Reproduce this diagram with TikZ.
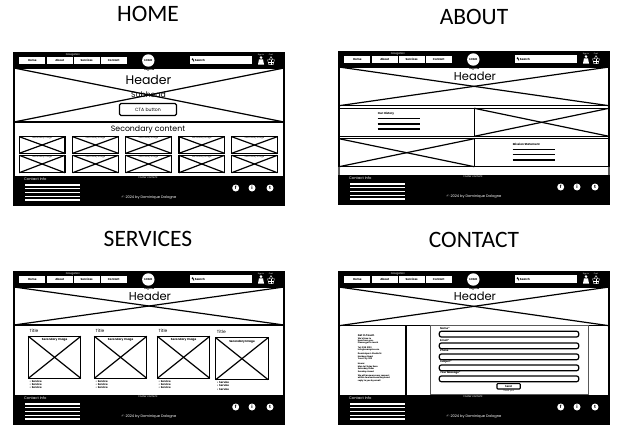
\documentclass[tikz,border=0pt]{standalone}
\usepackage{fontspec}
\setmainfont{Poppins}
\newfontfamily\titlefont{Carlito}

\tikzset{
  pagetitle/.style={font=\titlefont\fontsize{23.5}{26}\selectfont},
  crossline/.style={draw=black,line width=1.2pt},
  navtab/.style={draw=none,fill=white},
  tinywhite/.style={text=white,inner sep=0pt,font=\fontsize{2.6}{3}\selectfont},
  tinyblack/.style={text=black,inner sep=0pt,font=\bfseries\fontsize{2.8}{3}\selectfont},
  textline/.style={line width=1.5pt,black},
  footline/.style={line width=1.3pt,white},
  greyrule/.style={draw=black!65,line width=1.1pt},
  formfield/.style={draw=black,line width=1.2pt,rounded corners=2pt}
}

% box with a cross through it
\newcommand{\xbox}[4]{
  \draw[crossline] (#1,#2) rectangle (#3,#4);
  \draw[crossline] (#1,#2) -- (#3,#4);
  \draw[crossline] (#1,#4) -- (#3,#2);
}

% nav bar, footer and hero: page name / hero bottom edge
\newcommand{\wirepage}[2]{
  % Outline
  \draw[black,line width=1.1pt] (0,0) rectangle (270,152);
  % Top bar
  \fill[black] (0,0) rectangle (270,15);
  \foreach \i/\x/\lbl in {1/5.3/Home, 2/32.7/About, 3/59.7/Services, 4/86.7/Contact} {
    \fill[navtab] (\x,4) rectangle ++(26,7.3);
    \node[tinyblack] (#1-nav\i) at (\x+13,7.2) {\lbl};
  }
  \node[tinywhite] (#1-navlabel) at (59,1.8) {Navigation};
  \fill[white] (134.3,7.5) circle (6.2);
  \node[tinyblack] (#1-logo) at (134.3,7.5) {LOGO};
  % Search
  \fill[navtab] (176,3.4) rectangle (238,11);
  \fill[black] (178.6,6.2) circle (1);
  \draw[black,line width=0.7pt] (178.6,6.2) -- (180,8.4);
  \node[tinyblack,anchor=west] (#1-search) at (180.6,7.2) {Search};
  % Account and cart
  \node[tinywhite,font=\fontsize{1.9}{2}\selectfont] (#1-signin) at (247,1.7) {Sign in};
  \fill[white] (247,4.6) circle (1.4);
  \fill[white] (245,6.3) -- (249,6.3) -- (250,11.5) -- (244,11.5) -- cycle;
  \node[tinywhite,font=\fontsize{1.9}{2}\selectfont] (#1-cart) at (257,1.7) {Cart};
  \draw[white,line width=0.4pt] (253.6,6.7) -- (260.4,6.7) -- (259.2,11.6) -- (254.8,11.6) -- cycle;
  \draw[white,line width=0.4pt] (255.2,6.7) -- (257,3.6) -- (258.8,6.7);
  \draw[white,line width=0.4pt] (257,6.7) -- (257,11.6) (254.3,9) -- (259.7,9);
  % Hero
  \xbox{0}{15}{270}{#2}
  \node[tinyblack] (#1-tag) at (135,17.2) {Tagline};
  % Footer
  \fill[black] (0,122.6) rectangle (270,152.5);
  \node[tinywhite,anchor=west,font=\fontsize{3.6}{4}\selectfont] (#1-contact) at (10,126) {Contact Info};
  \node[tinywhite] (#1-footer) at (134,125) {Footer content};
  \foreach \y in {132,135.7,139.3,143.3,147} {
    \draw[footline] (11,\y) -- (66,\y);
  }
  \node[tinywhite,font=\fontsize{3.6}{4}\selectfont] (#1-copy) at (135,145) {\textcopyright{} 2024 by Dominique Dalogne};
  \foreach \i/\x/\lbl in {1/221.7/f, 2/238/i, 3/256/t} {
    \node[circle,fill=white,inner sep=0pt,minimum size=7pt,text=black,font=\bfseries\fontsize{4.4}{4}\selectfont] (#1-social\i) at (\x,135) {\lbl};
  }
}

\begin{document}
\begin{tikzpicture}[x=1pt,y=-1pt]
  \useasboundingbox (0,0) rectangle (621,431);
  \fill[white] (0,0) rectangle (621,431);

  % Page names
  \node[pagetitle] (hometitle) at (148,14) {HOME};
  \node[pagetitle] (abouttitle) at (474,17) {ABOUT};
  \node[pagetitle] (servicestitle) at (148,239) {SERVICES};
  \node[pagetitle] (contacttitle) at (474,240) {CONTACT};

  % Home
  \begin{scope}[shift={(14,53)}]
    \wirepage{home}{69}
    \node[inner sep=0pt,font=\fontsize{12.5}{14}\selectfont] (homehead) at (134.5,27) {Header};
    \node[inner sep=0pt,font=\fontsize{7.7}{10}\selectfont] (homesub) at (134.5,42) {Subhead};
    \node[draw,fill=white,line width=1.1pt,rounded corners=1.5pt,minimum width=57pt,minimum height=12pt,inner sep=0pt,font=\fontsize{4.6}{6}\selectfont] (homecta) at (134,56.5) {CTA button};
    \node[inner sep=0pt,font=\fontsize{7.8}{9}\selectfont] (homesecond) at (134,76.5) {Secondary content};
    \foreach \x in {5.3,58.7,111.7,165,217.7} {
      \foreach \y/\yy in {83.7/100.3,102.3/119.7} {
        \xbox{\x}{\y}{\x+45.6}{\yy}
        \node[tinyblack,font=\fontsize{2.2}{2.5}\selectfont] at (\x+22.8,\y+1.6) {Secondary image};
      }
    }
  \end{scope}

  % About
  \begin{scope}[shift={(339,52)}]
    \wirepage{about}{53.7}
    \node[inner sep=0pt,font=\fontsize{11.5}{12}\selectfont] (abouthead) at (136,24.5) {Header};
    \draw[greyrule] (0,56.3) -- (270,56.3);
    \draw[crossline] (0,56.3) rectangle (135.3,84.3);
    \xbox{135.3}{56.3}{270}{84.3}
    \xbox{0}{86.7}{135.3}{114.7}
    \draw[crossline] (135.3,86.7) rectangle (270,114.7);
    \draw[greyrule] (0,114.7) -- (0,122.6) (270,114.7) -- (270,122.6);
    \node[tinyblack,anchor=west] (abouthistory) at (38.7,62) {Our History};
    \foreach \y in {66.7,72,77} {
      \draw[textline] (38.7,\y) -- (81,\y);
    }
    \node[tinyblack,anchor=west] (aboutmission) at (173.7,92.3) {Mission Statement};
    \foreach \y in {97.3,102.6,108} {
      \draw[textline] (173.7,\y) -- (216,\y);
    }
  \end{scope}

  % Services
  \begin{scope}[shift={(14,272)}]
    \wirepage{services}{53}
    \node[inner sep=0pt,font=\fontsize{11.5}{12}\selectfont] (serviceshead) at (136,24) {Header};
    \foreach \i/\x/\y in {1/14.3/64.3, 2/80.3/64.3, 3/143.3/64.3, 4/201.7/65.7} {
      \node[inner sep=0pt,anchor=west,font=\fontsize{4.4}{5}\selectfont] (servicestitle\i) at (\x+1,\y-5.5) {Title};
      \xbox{\x}{\y}{\x+52.5}{\y+42}
      \node[tinyblack,font=\bfseries\fontsize{2.8}{3}\selectfont] (servicesimg\i) at (\x+26.3,\y+4) {Secondary Image};
      \foreach \k in {0,1,2} {
        \node[tinyblack,anchor=west,font=\bfseries\fontsize{2.6}{3}\selectfont] at (\x+1,\y+45+\k*3.2) {•\, Service};
      }
    }
  \end{scope}

  % Contact
  \begin{scope}[shift={(339,272)}]
    \wirepage{contact}{53.7}
    \node[inner sep=0pt,font=\fontsize{11.5}{12}\selectfont] (contacthead) at (136,24) {Header};
    \draw[crossline] (67,53.7) -- (67,122.6);
    \draw[greyrule] (91.3,53.7) rectangle (249.3,122.6);
    % Get in touch text
    \node[tinyblack,anchor=west,font=\bfseries\fontsize{2.6}{3}\selectfont] (contactget) at (18.7,63) {Get in Touch};
    \foreach \y/\lbl in {66.3/We'd love to, 68.7/hear from you., 71.3/Please get in touch, 75.3/Tel: 555 0100, 78/info@example.com, 82.3/Dominique's Studio 14, 84.7/Harbour Road, 87.3/Your City 000, 92/Hours:, 94.7/Mon to Friday 9am, 97.3/Saturday 10am, 100/Sunday closed, 103.7/We will answer every request, 106.3/within two business days and, 108.7/reply to you by email} {
      \node[tinyblack,anchor=west,font=\bfseries\fontsize{2.1}{2.4}\selectfont] at (18.7,\y) {\lbl};
    }
    % Form
    \foreach \i/\y/\lbl in {1/59.3/Name*, 2/71/Email*, 3/82/Phone, 4/93/Subject*, 5/104/Your Message*} {
      \node[tinyblack,anchor=west,font=\bfseries\fontsize{2.6}{3}\selectfont] (contactlabel\i) at (101,\y-3) {\lbl};
      \draw[formfield] (100.3,\y) rectangle (239.7,\y+5.7);
    }
    \node[draw,line width=1.1pt,rounded corners=0.8pt,minimum width=23.3pt,minimum height=5.3pt,inner sep=0pt,font=\bfseries\fontsize{2.6}{3}\selectfont] (contactsend) at (169.6,114.3) {Send};
    \node[tinyblack,font=\fontsize{2.1}{2.4}\selectfont] (contactnote) at (169.6,118.6) {Thank you!};
  \end{scope}

\end{tikzpicture}
\end{document}
